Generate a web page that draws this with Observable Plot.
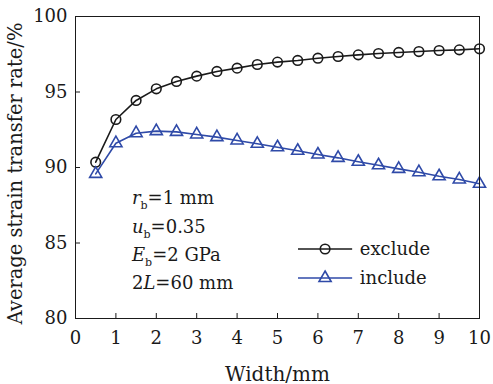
<!DOCTYPE html>
<html><head><meta charset="utf-8">
<script src="https://cdn.jsdelivr.net/npm/d3@7"></script>
<script src="https://cdn.jsdelivr.net/npm/@observablehq/plot@0.6"></script>
<style>body{margin:0;background:#fff}</style>
</head><body><div id="chart"></div>
<script>
const widths = [0.5,1,1.5,2,2.5,3,3.5,4,4.5,5,5.5,6,6.5,7,7.5,8,8.5,9,9.5,10];
const exclude = [90.35,93.18,94.44,95.21,95.70,96.05,96.36,96.58,96.82,96.98,97.09,97.24,97.35,97.46,97.55,97.62,97.68,97.75,97.79,97.86];
const include = [89.58,91.61,92.27,92.41,92.36,92.19,92.01,91.79,91.57,91.34,91.11,90.86,90.64,90.38,90.15,89.91,89.69,89.42,89.21,88.92];
const seriesNames = ["exclude","include"];
const xTicks = [0,1,2,3,4,5,6,7,8,9,10];
const yTicks = [80,85,90,95,100];
const xLabel = "Width/mm";
const yLabel = "Average strain transfer rate/%";
const notes = [
  [["r","i"],["b","sub"],["=1 mm",""]],
  [["u","i"],["b","sub"],["=0.35",""]],
  [["E","i"],["b","sub"],["=2 GPa",""]],
  [["2",""],["L","i"],["=60 mm",""]]
];

const BLUE = "#2f4aa8", INK = "#1a1a1a";
const rows = [];
widths.forEach((w,i)=>{
  rows.push({w, v: exclude[i], s: seriesNames[0]});
  rows.push({w, v: include[i], s: seriesNames[1]});
});
const ex = rows.filter(d=>d.s==="exclude"), inc = rows.filter(d=>d.s==="include");
const blank = () => "";

const chart = Plot.plot({
  width: 493, height: 384,
  marginLeft: 75, marginRight: 14, marginTop: 16, marginBottom: 66,
  style: {fontFamily: "DejaVu Serif", fontSize: "18px", color: INK, background: "white"},
  x: {domain: [0,10]},
  y: {domain: [80,100]},
  marks: [
    Plot.axisX({ticks: xTicks, tickSize: -5, tickFormat: blank, label: null}),
    Plot.axisY({ticks: yTicks, tickSize: -5, tickFormat: blank, label: null}),
    Plot.axisX({ticks: xTicks, tickSize: 0, tickPadding: 13, label: null}),
    Plot.axisY({ticks: yTicks, tickSize: 0, tickPadding: 8, label: null}),
    Plot.axisX({ticks: xTicks, tickSize: 0, tickFormat: blank, fontSize: 20, label: xLabel, labelAnchor: "center", labelOffset: 62, labelArrow: "none"}),
    Plot.text([yLabel], {text: d => d, frameAnchor: "left", textAnchor: "middle", lineAnchor: "middle", rotate: -90, dx: -60, dy: 6, fontSize: 19.5, fill: INK}),
    Plot.line(ex, {x: "w", y: "v", stroke: INK, strokeWidth: 1.6}),
    Plot.dot(ex, {x: "w", y: "v", r: 4.8, stroke: INK, strokeWidth: 1.6, fill: "none"}),
    Plot.line(inc, {x: "w", y: "v", stroke: BLUE, strokeWidth: 1.6}),
    Plot.dot(inc, {x: "w", y: "v", r: 4.5, symbol: "triangle", stroke: BLUE, strokeWidth: 1.6, fill: "none"}),
    Plot.frame({stroke: INK, strokeWidth: 1})
  ]
});
document.getElementById("chart").appendChild(chart);

const sx = chart.scale("x"), sy = chart.scale("y");
const svg = d3.select(chart);
const g = svg.append("g").attr("fill", INK).attr("font-family", "DejaVu Serif")
  .attr("font-size", 18).attr("text-anchor", "start");
// annotation block
const nx = sx.apply(1.41);
const nys = [87.95, 86.03, 84.17, 82.32];
notes.forEach((parts, i) => {
  const t = g.append("text").attr("x", nx).attr("y", sy.apply(nys[i])).attr("dy", "0.35em");
  let prevSub = false;
  parts.forEach(([s, k]) => {
    const ts = t.append("tspan").text(s);
    if (k === "i") ts.attr("font-style", "italic");
    if (k === "sub") ts.attr("font-size", 11).attr("dy", 5);
    else if (prevSub) ts.attr("dy", -5);
    prevSub = (k === "sub");
  });
});
// legend
const legendY = [84.57, 82.65];
const legendStroke = [INK, BLUE];
const lx1 = sx.apply(5.52), lx2 = sx.apply(6.86), lm = sx.apply(6.19), lt = sx.apply(7.05);
seriesNames.forEach((name, i) => {
  const y = sy.apply(legendY[i]);
  g.append("line").attr("x1", lx1).attr("x2", lx2).attr("y1", y).attr("y2", y)
    .attr("stroke", legendStroke[i]).attr("stroke-width", 1.6);
  if (i === 0) {
    g.append("circle").attr("cx", lm).attr("cy", y).attr("r", 4.8).attr("fill", "none")
      .attr("stroke", legendStroke[i]).attr("stroke-width", 1.6);
  } else {
    g.append("path").attr("d", d3.symbol(d3.symbolTriangle, Math.PI*4.5*4.5)())
      .attr("transform", `translate(${lm},${y})`).attr("fill", "none")
      .attr("stroke", legendStroke[i]).attr("stroke-width", 1.6);
  }
  g.append("text").attr("x", lt).attr("y", y).attr("dy", "0.35em").text(name);
});
</script>
</body></html>
